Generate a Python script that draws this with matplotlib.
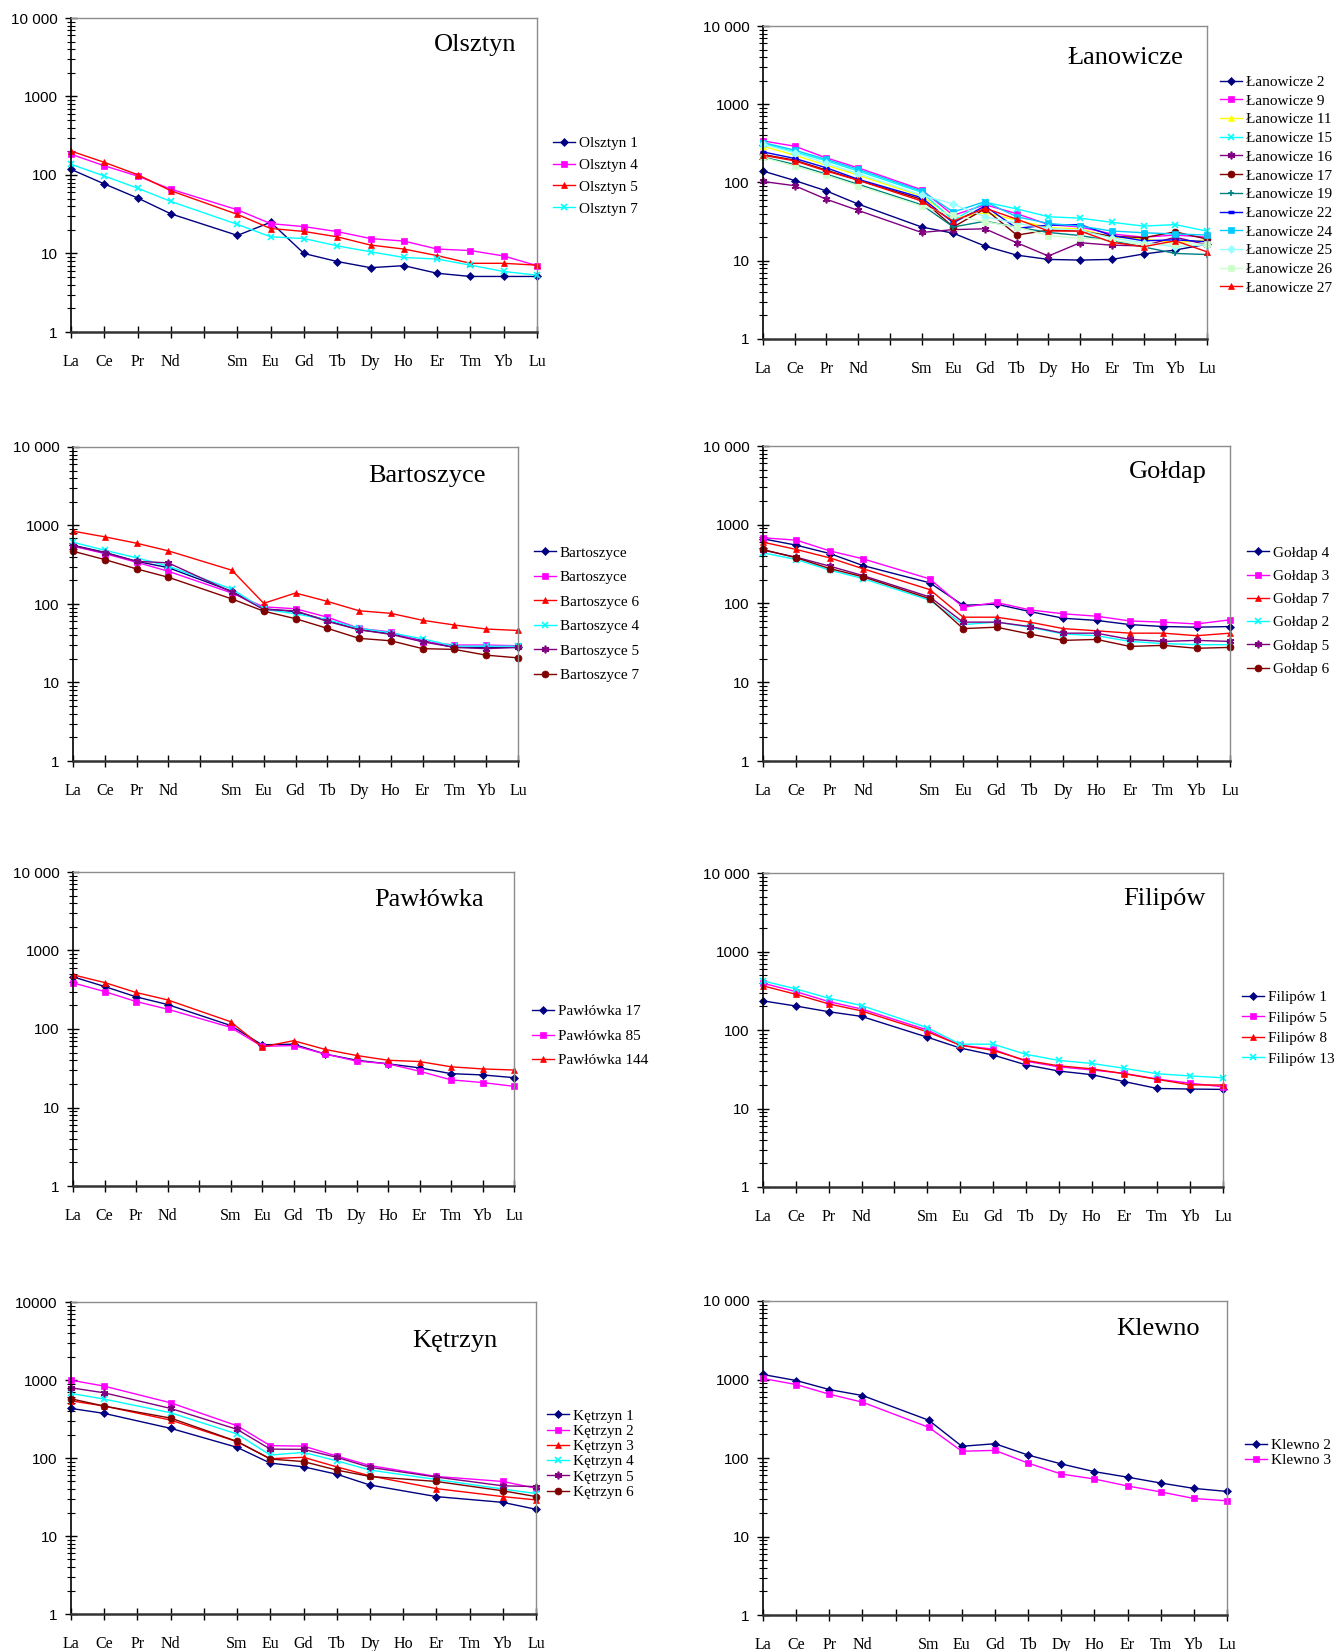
import numpy as np
import matplotlib
matplotlib.use('Agg')
import matplotlib.pyplot as plt
from matplotlib.ticker import FixedLocator, FixedFormatter, LogLocator, NullFormatter

plt.rcParams['font.family'] = ['Liberation Serif', 'DejaVu Serif']

# chondrite-normalised REE patterns; Pm has no data but keeps its slot on the axis
ELEMENTS = ['La', 'Ce', 'Pr', 'Nd', 'Pm', 'Sm', 'Eu', 'Gd', 'Tb', 'Dy', 'Ho', 'Er', 'Tm', 'Yb', 'Lu']
REE = [e for e in ELEMENTS if e != 'Pm']
TICK_LABELS = [e if e != 'Pm' else '' for e in ELEMENTS]
nan = np.nan

#            La    Ce    Pr    Nd    Sm    Eu    Gd    Tb    Dy    Ho    Er    Tm    Yb    Lu
OLSZTYN_1 = [118, 77, 51, 32, 17, 25, 10, 7.9, 6.6, 7.0, 5.6, 5.1, 5.1, 5.1]
OLSZTYN_4 = [184, 131, 97, 66, 36, 24, 22, 19, 15.5, 14.4, 11.4, 10.9, 9.3, 7.0]
OLSZTYN_5 = [202, 145, 101, 63, 31.5, 20.8, 19.1, 16.3, 12.8, 11.4, 9.4, 7.5, 7.5, 7.1]
OLSZTYN_7 = [137, 97, 68, 46, 23.5, 16.3, 15.5, 12.5, 10.5, 8.9, 8.5, 7.1, 5.9, 5.3]

LANOWICZE_2 = [140, 106, 78, 53, 27, 22.5, 15.4, 11.8, 10.4, 10.2, 10.4, 12.2, 13.7, 16.3]
LANOWICZE_9 = [340, 291, 206, 154, 81, 38, 52, 40, 29, 27, 22, 20, 21.3, 20]
LANOWICZE_11 = [291, 223, 166, 124, 67, 35, 41, 33, 26.6, 25.5, 20, 19, 17, 18.5]
LANOWICZE_15 = [315, 246, 189, 140, 75, 33, 56, 46, 36.5, 35, 31, 27.7, 29, 23.9]
LANOWICZE_16 = [103, 91, 61, 44, 23, 25, 25.6, 17, 11.5, 17, 15.8, 15.5, 20, 16]
LANOWICZE_17 = [228, 193, 144, 107, 61, 27, 46, 21.3, 24.6, 24, 20.6, 19.7, 23.4, 18.9]
LANOWICZE_19 = [212, 170, 128, 95, 52, 27, 32, 27, 23, 21, 18, 15, 12.4, 12]
LANOWICZE_22 = [246, 203, 154, 110, 64, 30.6, 50, 26, 28.5, 29, 21, 18, 18.5, 17.5]
LANOWICZE_24 = [324, 259, 197, 147, 78, 42, 57, 36.5, 30, 27.7, 24, 22.8, 22, 21.3]
LANOWICZE_25 = [306, 239, 175, 130, 69, 53, 36.5, 30, 26, 24.5, 19.5, 17, 15.1, 16]
LANOWICZE_26 = [209, 162, 123, 91, 50, 38, 31.5, 27, 21, 19.3, 18.5, 16, 16.5, 16.3]
LANOWICZE_27 = [223, 189, 140, 107, 58, 32, 47, 34, 24, 24, 17.2, 15.1, 18, 13]

BARTOSZYCE_A = [560, 455, 350, 290, 145, 87, 80, 62, 47, 42, 34, 28, 28, 28]
BARTOSZYCE_B = [545, 439, 340, 261, 138, 92, 87, 68, 49, 44, 33, 30, 30, 29.4]
BARTOSZYCE_6 = [847, 717, 595, 475, 269, 102, 138, 108, 82, 76, 62, 54, 48, 46]
BARTOSZYCE_4 = [612, 484, 387, 303, 155, 86, 75, 63, 49, 43, 36, 29, 29, 29]
BARTOSZYCE_5 = [555, 448, 350, 334, 142, 85, 82, 60, 47, 41, 33, 28, 27, 28]
BARTOSZYCE_7 = [470, 368, 280, 219, 116, 81, 65, 49, 36.5, 34, 27, 26.4, 22.3, 20.6]

GOLDAP_4 = [663, 550, 431, 303, 183, 95, 98, 79, 65, 61, 54, 51, 50, 51]
GOLDAP_3 = [683, 637, 466, 369, 205, 89.5, 103, 83, 74, 69, 60, 58, 55, 62]
GOLDAP_7 = [601, 485, 380, 276, 150, 67, 67, 58, 48, 45, 42, 42, 39, 42]
GOLDAP_2 = [440, 362, 265, 207, 110, 54, 58, 50, 41, 39, 33, 31, 30, 30]
GOLDAP_5 = [476, 387, 298, 226, 121, 58, 58, 51, 42, 42, 35, 33, 34, 33]
GOLDAP_6 = [485, 380, 278, 218, 115, 48, 50, 41, 34, 35, 28.5, 29.4, 27, 27.7]

PAWLOWKA_17 = [462, 348, 257, 205, 111, 63, 64, 48, 40, 36, 32, 27, 26, 24]
PAWLOWKA_85 = [387, 300, 224, 179, 105, 60, 61.6, 48, 39, 36, 29, 22.5, 20.8, 18.6]
PAWLOWKA_144 = [490, 391, 292, 235, 124, 59, 71, 55, 46, 40, 38.5, 33, 31, 30]

FILIPOW_1 = [235, 202, 171, 149, 81, 59, 48, 36, 30, 27, 22, 18, 17.7, 17.5]
FILIPOW_5 = [394, 308, 230, 185, 100, 64, 57, 40, 34, 31, 28, 23.7, 21, 18.9]
FILIPOW_8 = [365, 285, 215, 175, 95, 64, 55, 41, 35, 32, 27.7, 23.5, 20, 19.9]
FILIPOW_13 = [422, 334, 254, 205, 107, 66, 66, 49, 41, 37.5, 32.5, 27.7, 26, 24.6]

# Kętrzyn samples were not analysed for Pr, Ho and Tm
KETRZYN_1 = [432, 373, nan, 240, 137, 86, 77, 62, 45, nan, 32, nan, 27, 22]
KETRZYN_2 = [995, 834, nan, 510, 259, 144, 142, 106, 80, nan, 58, nan, 50, 41]
KETRZYN_3 = [541, 463, nan, 306, 162, 98, 102, 77, 59, nan, 40.5, nan, 32, 29]
KETRZYN_4 = [672, 569, nan, 380, 203, 109, 118, 92, 70, nan, 53, nan, 40, 35]
KETRZYN_5 = [794, 685, nan, 432, 233, 130, 129, 102, 76, nan, 57, nan, 44, 43]
KETRZYN_6 = [574, 463, nan, 325, 163, 97, 90, 70, 58, nan, 50, nan, 38, 32]

KLEWNO_2 = [1158, 971, 745, 625, 303, 141, 152, 109, 84, 67, 57, 48, 41, 37.5]
KLEWNO_3 = [1030, 863, 650, 514, 246, 122, 125, 86, 62.5, 54, 44, 37, 30.5, 28.5]

# spreadsheet-style series looks: colour, marker, marker size
ASTERISK = (6, 2, 0)
STYLE = {
    'navy': ('#000080', 'D', 3.6),
    'magenta': ('#FF00FF', 's', 4.6),
    'yellow': ('#FFFF00', '^', 5.0),
    'red': ('#FF0000', '^', 5.0),
    'cyan': ('#00FFFF', 'x', 4.5),
    'purple': ('#800080', ASTERISK, 5.5),
    'maroon': ('#800000', 'o', 5.0),
    'teal': ('#008080', '+', 5.0),
    'blue': ('#0000FF', '_', 4.0),
    'sky': ('#00CCFF', 's', 4.6),
    'lightcyan': ('#99FFFF', 'D', 4.0),
    'lightgreen': ('#CCFFCC', 's', 5.0),
}

W, H = 1341, 1651

# box = (left, right, top, bottom) in pixels; legend = (x, y centre, row pitch); title = (right gap, drop)
PANELS = [
    dict(name='Olsztyn', box=(71, 537, 18, 332), legend=(553, 176, 22.0), title=(21, 27),
         series=[('Olsztyn 1', OLSZTYN_1, 'navy'), ('Olsztyn 4', OLSZTYN_4, 'magenta'),
                 ('Olsztyn 5', OLSZTYN_5, 'red'), ('Olsztyn 7', OLSZTYN_7, 'cyan')]),
    dict(name='Łanowicze', box=(763, 1207, 26, 339), legend=(1220, 185, 18.8), title=(24, 32),
         series=[('Łanowicze 2', LANOWICZE_2, 'navy'), ('Łanowicze 9', LANOWICZE_9, 'magenta'),
                 ('Łanowicze 11', LANOWICZE_11, 'yellow'), ('Łanowicze 15', LANOWICZE_15, 'cyan'),
                 ('Łanowicze 16', LANOWICZE_16, 'purple'), ('Łanowicze 17', LANOWICZE_17, 'maroon'),
                 ('Łanowicze 19', LANOWICZE_19, 'teal'), ('Łanowicze 22', LANOWICZE_22, 'blue'),
                 ('Łanowicze 24', LANOWICZE_24, 'sky'), ('Łanowicze 25', LANOWICZE_25, 'lightcyan'),
                 ('Łanowicze 26', LANOWICZE_26, 'lightgreen'), ('Łanowicze 27', LANOWICZE_27, 'red')]),
    dict(name='Bartoszyce', box=(73, 518, 447, 761), legend=(534, 614, 24.6), title=(32, 29),
         series=[('Bartoszyce', BARTOSZYCE_A, 'navy'), ('Bartoszyce', BARTOSZYCE_B, 'magenta'),
                 ('Bartoszyce 6', BARTOSZYCE_6, 'red'), ('Bartoszyce 4', BARTOSZYCE_4, 'cyan'),
                 ('Bartoszyce 5', BARTOSZYCE_5, 'purple'), ('Bartoszyce 7', BARTOSZYCE_7, 'maroon')]),
    dict(name='Gołdap', box=(763, 1230, 446, 761), legend=(1247, 611, 23.4), title=(23, 26),
         series=[('Gołdap 4', GOLDAP_4, 'navy'), ('Gołdap 3', GOLDAP_3, 'magenta'),
                 ('Gołdap 7', GOLDAP_7, 'red'), ('Gołdap 2', GOLDAP_2, 'cyan'),
                 ('Gołdap 5', GOLDAP_5, 'purple'), ('Gołdap 6', GOLDAP_6, 'maroon')]),
    dict(name='Pawłówka', box=(73, 514, 872, 1186), legend=(532, 1036, 24.5), title=(30, 28),
         series=[('Pawłówka 17', PAWLOWKA_17, 'navy'), ('Pawłówka 85', PAWLOWKA_85, 'magenta'),
                 ('Pawłówka 144', PAWLOWKA_144, 'red')]),
    dict(name='Filipów', box=(763, 1223, 873, 1187), legend=(1242, 1028, 20.7), title=(17, 26),
         series=[('Filipów 1', FILIPOW_1, 'navy'), ('Filipów 5', FILIPOW_5, 'magenta'),
                 ('Filipów 8', FILIPOW_8, 'red'), ('Filipów 13', FILIPOW_13, 'cyan')]),
    dict(name='Kętrzyn', box=(71, 536, 1302, 1614), legend=(547, 1454, 15.4), title=(39, 39), top='10000',
         series=[('Kętrzyn 1', KETRZYN_1, 'navy'), ('Kętrzyn 2', KETRZYN_2, 'magenta'),
                 ('Kętrzyn 3', KETRZYN_3, 'red'), ('Kętrzyn 4', KETRZYN_4, 'cyan'),
                 ('Kętrzyn 5', KETRZYN_5, 'purple'), ('Kętrzyn 6', KETRZYN_6, 'maroon')]),
    dict(name='Klewno', box=(763, 1227, 1301, 1615), legend=(1245, 1453, 15.0), title=(27, 28),
         series=[('Klewno 2', KLEWNO_2, 'navy'), ('Klewno 3', KLEWNO_3, 'magenta')]),
]

LEG_FS = 11
FS_PX = LEG_FS * 100 / 72
ROW_PX = 13.8  # height of one line of legend text

fig = plt.figure(figsize=(W / 100, H / 100), dpi=100)
x_all = np.array([ELEMENTS.index(e) for e in REE])

for p in PANELS:
    L, R, T, B = p['box']
    ax = fig.add_axes([L / W, 1 - B / H, (R - L) / W, (B - T) / H])

    for label, vals, key in p['series']:
        y = np.array(vals, dtype=float)
        ok = ~np.isnan(y)
        color, marker, ms = STYLE[key]
        mew = 1.2 if marker in ('x', '+', ASTERISK) else (2.5 if marker == '_' else 0.5)
        ax.plot(x_all[ok], y[ok], color=color, lw=1.0, marker=marker, ms=ms,
                mfc=color, mec=color, mew=mew, label=label, clip_on=False)

    ax.set_yscale('log')
    ax.set_ylim(1, 10000)
    ax.set_xlim(0, len(ELEMENTS) - 1)
    ax.yaxis.set_major_locator(FixedLocator([1, 10, 100, 1000, 10000]))
    ax.yaxis.set_major_formatter(FixedFormatter(['1', '10', '100', '1000', p.get('top', '10 000')]))
    ax.yaxis.set_minor_locator(LogLocator(base=10, subs=np.arange(2, 10)))
    ax.yaxis.set_minor_formatter(NullFormatter())
    ax.set_xticks(range(len(ELEMENTS)))
    ax.set_xticklabels(TICK_LABELS)

    ax.tick_params(axis='y', which='major', direction='inout', length=9, width=1.0, pad=5, labelsize=11)
    ax.tick_params(axis='y', which='minor', direction='inout', length=6, width=0.8)
    ax.tick_params(axis='x', direction='inout', length=8, width=1.0, pad=12, labelsize=11.5)
    for t in ax.get_yticklabels():
        t.set_fontfamily('Liberation Sans')

    ax.spines['left'].set_color('black')
    ax.spines['left'].set_linewidth(1.2)
    ax.spines['bottom'].set_color('#333333')
    ax.spines['bottom'].set_linewidth(1.8)
    for s in ('top', 'right'):
        ax.spines[s].set_color('#8c8c8c')
        ax.spines[s].set_linewidth(1.0)

    gap, drop = p['title']
    ax.annotate(p['name'], xy=(1, 1), xycoords='axes fraction',
                xytext=(-gap * 0.72, -drop * 0.72), textcoords='offset points',
                ha='right', va='center', fontsize=19)

    lx, ly, pitch = p['legend']
    ax.legend(loc='center left', bbox_to_anchor=(lx / W, 1 - ly / H), bbox_transform=fig.transFigure,
              frameon=False, fontsize=LEG_FS, numpoints=1, handlelength=1.45, handletextpad=0.25,
              borderpad=0, borderaxespad=0, labelspacing=(pitch - ROW_PX) / FS_PX)

fig.savefig('out.png', dpi=100)
